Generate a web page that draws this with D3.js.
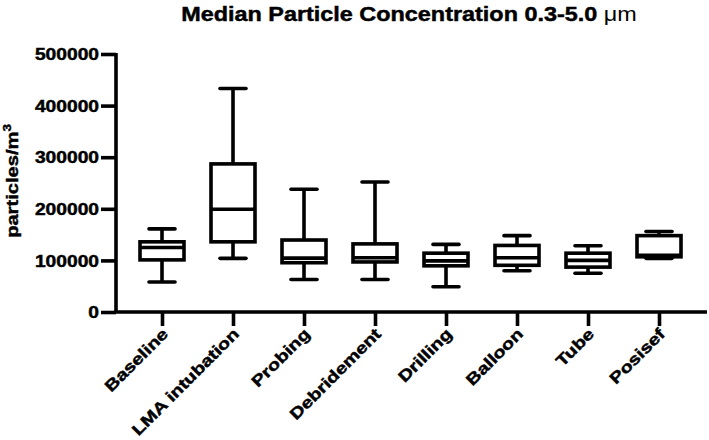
<!DOCTYPE html>
<html>
<head>
<meta charset="utf-8">
<script src="https://d3js.org/d3.v7.min.js"></script>
<style>
  body { margin: 0; background: #fff; }
  text { font-family: "Liberation Sans", Arial, sans-serif; font-weight: bold; fill: #000; stroke: #000; stroke-width: 0.45px; }
</style>
</head>
<body>
<div id="chart"></div>
<script>
// data
var categories = ["Baseline", "LMA intubation", "Probing", "Debridement", "Drilling", "Balloon", "Tube", "Posisef"];
var whiskerLow  = [58000, 104000, 63000, 63000, 49000, 80000, 75000, 104000];
var q1          = [101000, 136000, 95500, 97000, 89500, 90500, 87000, 107000];
var median      = [125000, 199000, 104500, 105000, 99000, 105000, 100000, 110000];
var q3          = [136000, 287000, 139500, 132000, 114000, 129000, 114000, 148000];
var whiskerHigh = [161000, 433000, 238000, 252000, 131000, 148000, 128500, 156000];
var yTicks = [0, 100000, 200000, 300000, 400000, 500000];

var width = 709, height = 440;
var sw = 3.6;       // line weight

var svg = d3.select("#chart").append("svg")
  .attr("width", width)
  .attr("height", height);

var x = d3.scalePoint().domain(categories).range([162, 659]);
var y = d3.scaleLinear().domain([0, 500000]).range([312, 54]);

// the original font is drawn wide, so stretch each text a bit
function widen(sel, f) {
  sel.each(function() {
    var len = this.getComputedTextLength();
    d3.select(this).attr("textLength", len * f).attr("lengthAdjust", "spacingAndGlyphs");
  });
}

// axes
var yAxis = svg.append("g")
  .attr("transform", "translate(116,0)")
  .call(d3.axisLeft(y).tickValues(yTicks).tickSize(15).tickSizeOuter(0).tickPadding(2).tickFormat(d3.format("d")));
yAxis.select(".domain").remove();
yAxis.selectAll(".tick line").attr("stroke", "#000").attr("stroke-width", sw);
yAxis.selectAll(".tick text").attr("font-size", 16).attr("font-family", null).attr("fill", "#000").attr("dy", "0.36em");
widen(yAxis.selectAll(".tick text"), 1.2);

var xAxis = svg.append("g")
  .attr("transform", "translate(0,312)")
  .call(d3.axisBottom(x).tickSize(14).tickSizeOuter(0).tickFormat(""));
xAxis.select(".domain").remove();
xAxis.selectAll(".tick line").attr("stroke", "#000").attr("stroke-width", sw);

// axis lines
svg.append("line")
  .attr("x1", 116).attr("x2", 116)
  .attr("y1", y(500000) - 1).attr("y2", y(0))
  .attr("stroke", "#000").attr("stroke-width", sw);
svg.append("line")
  .attr("x1", 116 - sw / 2).attr("x2", 707)
  .attr("y1", y(0)).attr("y2", y(0))
  .attr("stroke", "#000").attr("stroke-width", sw);

// category labels, rotated
var xl = svg.append("g").selectAll("text")
  .data(categories)
  .enter()
  .append("text")
    .attr("transform", function(d){ return "translate(" + (x(d) + 7) + ",335) rotate(-45)"; })
    .attr("text-anchor", "end")
    .attr("font-size", 16)
    .text(function(d){ return d; });
widen(xl, 1.24);

// boxes
var rows = categories.map(function(c, i) {
  return { c: c, lo: whiskerLow[i], q1: q1[i], med: median[i], q3: q3[i], hi: whiskerHigh[i] };
});
var boxW = 44, capW = 26;
var g = svg.append("g").selectAll("g")
  .data(rows)
  .enter()
  .append("g")
    .attr("transform", function(d){ return "translate(" + x(d.c) + ",0)"; });

g.append("line")
  .attr("x1", 0).attr("x2", 0)
  .attr("y1", function(d){ return y(d.hi); })
  .attr("y2", function(d){ return y(d.q3); })
  .attr("stroke", "#000").attr("stroke-width", sw);
g.append("line")
  .attr("x1", 0).attr("x2", 0)
  .attr("y1", function(d){ return y(d.q1); })
  .attr("y2", function(d){ return y(d.lo); })
  .attr("stroke", "#000").attr("stroke-width", sw);
g.selectAll(".cap")
  .data(function(d){ return [d.hi, d.lo]; })
  .enter()
  .append("line")
    .attr("class", "cap")
    .attr("x1", -capW / 2).attr("x2", capW / 2)
    .attr("y1", function(v){ return y(v); })
    .attr("y2", function(v){ return y(v); })
    .attr("stroke", "#000").attr("stroke-width", sw)
    .attr("stroke-linecap", "round");
g.append("rect")
  .attr("x", -boxW / 2)
  .attr("width", boxW)
  .attr("y", function(d){ return y(d.q3); })
  .attr("height", function(d){ return y(d.q1) - y(d.q3); })
  .attr("fill", "none")
  .attr("stroke", "#000").attr("stroke-width", sw);
g.append("line")
  .attr("x1", -boxW / 2).attr("x2", boxW / 2)
  .attr("y1", function(d){ return y(d.med); })
  .attr("y2", function(d){ return y(d.med); })
  .attr("stroke", "#000").attr("stroke-width", sw);

// y label
var yl = svg.append("text")
  .attr("transform", "translate(18,181) rotate(-90)")
  .attr("text-anchor", "middle")
  .attr("font-size", 16.5);
yl.append("tspan").text("particles/m");
yl.append("tspan").attr("font-size", 11).attr("dy", -7).text("3");
widen(yl, 1.22);

// title
var title = svg.append("text")
  .attr("x", 409)
  .attr("y", 21)
  .attr("text-anchor", "middle")
  .attr("font-size", 20);
title.append("tspan").text("Median Particle Concentration 0.3-5.0 ");
title.append("tspan").attr("font-weight", "normal").attr("stroke-width", 0).text("\u03bcm");
widen(title, 1.17);
</script>
</body>
</html>
